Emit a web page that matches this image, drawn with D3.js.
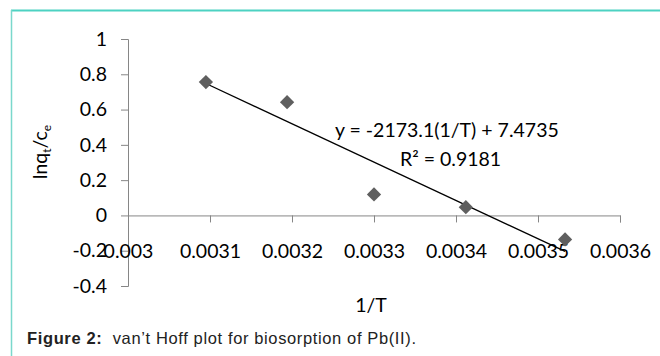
<!DOCTYPE html>
<html>
<head>
<meta charset="utf-8">
<script src="https://cdn.jsdelivr.net/npm/d3@7"></script>
<style>
  body { margin: 0; background: #fff; }
  svg { display: block; }
</style>
</head>
<body>
<div id="chart"></div>
<script>
// data
const invT = [0.003095, 0.003194, 0.0033, 0.003412, 0.003533];
const lnK = [0.756, 0.642, 0.119, 0.047, -0.136];
const xTicks = [0.003, 0.0031, 0.0032, 0.0033, 0.0034, 0.0035, 0.0036];
const yTicks = [-0.4, -0.2, 0, 0.2, 0.4, 0.6, 0.8, 1];
const slope = -2173.1;
const intercept = 7.4735;

const width = 660, height = 356;
const font = "Lato, 'Open Sans', sans-serif";
const fs = 19.5;

const svg = d3.select("#chart")
    .append("svg")
    .attr("width", width)
    .attr("height", height);

// teal frame round the figure
svg.append("line")
    .attr("x1", 11).attr("y1", 10.5).attr("x2", width).attr("y2", 10.5)
    .attr("stroke", "#4dd2c2").attr("stroke-width", 2);
svg.append("line")
    .attr("x1", 11.5).attr("y1", 10).attr("x2", 11.5).attr("y2", height)
    .attr("stroke", "#7ad8cc").attr("stroke-width", 1.5);

const x = d3.scaleLinear().domain([0.003, 0.0036]).range([128, 620]);
const y = d3.scaleLinear().domain([-0.4, 1]).range([286, 39]);

// y axis
const yAxis = svg.append("g")
    .attr("transform", "translate(" + x(0.003) + ",0)")
    .call(d3.axisLeft(y).tickValues(yTicks).tickSize(7).tickPadding(14)
        .tickFormat(d => String(+d.toFixed(1))));
yAxis.select(".domain").attr("stroke", "#868686");
yAxis.selectAll(".tick line").attr("stroke", "#868686");
yAxis.selectAll("text").attr("font-family", font).attr("font-size", fs).attr("fill", "#000");

// x axis, sitting on y = 0
const xAxis = svg.append("g")
    .attr("transform", "translate(0," + y(0) + ")")
    .call(d3.axisBottom(x).tickValues(xTicks).tickSize(7).tickPadding(22)
        .tickFormat(d => String(+d.toFixed(4))));
xAxis.select(".domain").attr("stroke", "#868686");
xAxis.selectAll(".tick line").attr("stroke", "#868686");
xAxis.selectAll("text").attr("font-family", font).attr("font-size", fs).attr("fill", "#000");

// linear trendline
const x0 = d3.min(invT), x1 = d3.max(invT);
svg.append("line")
    .attr("x1", x(x0)).attr("y1", y(slope * x0 + intercept))
    .attr("x2", x(x1)).attr("y2", y(slope * x1 + intercept))
    .attr("stroke", "#000").attr("stroke-width", 1.3);

// diamond markers
svg.selectAll("path.pt")
    .data(invT)
    .enter()
    .append("path")
    .attr("class", "pt")
    .attr("d", d3.symbol().type(d3.symbolDiamond2).size(130))
    .attr("transform", (d, i) => "translate(" + x(d) + "," + y(lnK[i]) + ")")
    .attr("fill", "#5f5f5f");

// trendline labels
svg.append("text")
    .attr("x", 335).attr("y", 137)
    .attr("font-family", font).attr("font-size", fs)
    .text("y = -2173.1(1/T) + 7.4735");
svg.append("text")
    .attr("x", 400).attr("y", 166)
    .attr("font-family", font).attr("font-size", fs)
    .text("R² = 0.9181");

// axis titles
svg.append("text")
    .attr("x", 371).attr("y", 312)
    .attr("text-anchor", "middle")
    .attr("font-family", font).attr("font-size", fs)
    .text("1/T");

const yt = svg.append("text")
    .attr("transform", "translate(47,152) rotate(-90)")
    .attr("text-anchor", "middle")
    .attr("font-family", font).attr("font-size", fs);
yt.append("tspan").text("lnq");
yt.append("tspan").attr("font-size", 12).attr("dy", 4).text("t");
yt.append("tspan").attr("dy", -4).text("/c");
yt.append("tspan").attr("font-size", 12).attr("dy", 4).text("e");

// caption
const cap = svg.append("text")
    .attr("x", 27).attr("y", 344)
    .attr("textLength", 389).attr("lengthAdjust", "spacing")
    .attr("font-family", "'Liberation Sans', Arial, sans-serif")
    .attr("font-size", 16.5).attr("fill", "#222");
cap.append("tspan").attr("font-weight", "bold").text("Figure 2:");
cap.append("tspan").attr("xml:space", "preserve").text("  van’t Hoff plot for biosorption of Pb(II).");
</script>
</body>
</html>
